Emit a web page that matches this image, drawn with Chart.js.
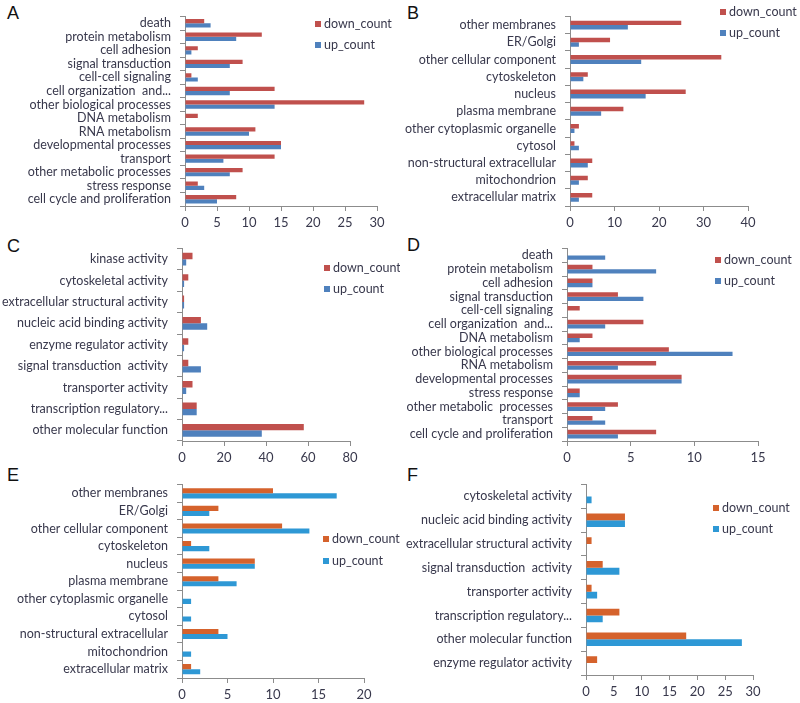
<!DOCTYPE html>
<html>
<head>
<meta charset="utf-8">
<script src="https://cdn.jsdelivr.net/npm/chart.js@4.4.1/dist/chart.umd.min.js"></script>
<style>
  body { margin: 0; background: #fff; width: 800px; height: 703px; position: relative; overflow: hidden; }
  canvas { position: absolute; }
  .tag { position: absolute; font: 18px "Liberation Sans", Arial, sans-serif; color: #111; }
</style>
</head>
<body>
<div class="tag" style="left:7px;top:3px">A</div>
<div class="tag" style="left:407px;top:3px">B</div>
<div class="tag" style="left:7px;top:236px">C</div>
<div class="tag" style="left:407px;top:235px">D</div>
<div class="tag" style="left:7px;top:465px">E</div>
<div class="tag" style="left:407px;top:465px">F</div>

<canvas id="chartA" width="400" height="232" style="left:0;top:0"></canvas>
<canvas id="chartB" width="400" height="232" style="left:400px;top:0"></canvas>
<canvas id="chartC" width="400" height="240" style="left:0;top:232px"></canvas>
<canvas id="chartD" width="400" height="240" style="left:400px;top:232px"></canvas>
<canvas id="chartE" width="400" height="235" style="left:0;top:468px"></canvas>
<canvas id="chartF" width="400" height="235" style="left:400px;top:468px"></canvas>

<script>
// ---- data (categories listed top to bottom) ----
var processLabelsA = ['death', 'protein metabolism', 'cell adhesion', 'signal transduction',
    'cell-cell signaling', 'cell organization  and...', 'other biological processes', 'DNA metabolism',
    'RNA metabolism', 'developmental processes', 'transport', 'other metabolic processes',
    'stress response', 'cell cycle and proliferation'];
var downA = [3, 12, 2, 9, 1, 14, 28, 2, 11, 15, 14, 9, 2, 8];
var upA   = [4, 8, 1, 7, 2, 7, 14, 0, 10, 15, 6, 7, 3, 5];

var componentLabelsB = ['other membranes', 'ER/Golgi', 'other cellular component', 'cytoskeleton',
    'nucleus', 'plasma membrane', 'other cytoplasmic organelle', 'cytosol',
    'non-structural extracellular', 'mitochondrion', 'extracellular matrix'];
var downB = [25, 9, 34, 4, 26, 12, 2, 1, 5, 4, 5];
var upB   = [13, 2, 16, 3, 17, 7, 1, 2, 4, 2, 2];

var functionLabelsC = ['kinase activity', 'cytoskeletal activity', 'extracellular structural activity',
    'nucleic acid binding activity', 'enzyme regulator activity', 'signal transduction  activity',
    'transporter activity', 'transcription regulatory...', 'other molecular function'];
var downC = [5, 3, 1, 9, 3, 3, 5, 7, 58];
var upC   = [2, 1, 1, 12, 1, 9, 2, 7, 38];

var processLabelsD = ['death', 'protein metabolism', 'cell adhesion', 'signal transduction',
    'cell-cell signaling', 'cell organization  and...', 'DNA metabolism', 'other biological processes',
    'RNA metabolism', 'developmental processes', 'stress response', 'other metabolic  processes',
    'transport', 'cell cycle and proliferation'];
var downD = [0, 2, 2, 4, 1, 6, 2, 8, 7, 9, 1, 4, 2, 7];
var upD   = [3, 7, 2, 6, 0, 3, 1, 13, 4, 9, 1, 3, 3, 4];

var componentLabelsE = componentLabelsB;
var downE = [10, 4, 11, 1, 8, 4, 0, 0, 4, 0, 1];
var upE   = [17, 3, 14, 3, 8, 6, 1, 1, 5, 1, 2];

var functionLabelsF = ['cytoskeletal activity', 'nucleic acid binding activity',
    'extracellular structural activity', 'signal transduction  activity', 'transporter activity',
    'transcription regulatory...', 'other molecular function', 'enzyme regulator activity'];
var downF = [0, 7, 1, 3, 1, 6, 18, 2];
var upF   = [1, 7, 0, 6, 2, 3, 28, 0];

var xMaxA = 30, xMaxB = 40, xMaxC = 80, xMaxD = 15, xMaxE = 20, xMaxF = 30;
var xStepA = 5, xStepB = 10, xStepC = 20, xStepD = 5, xStepE = 5, xStepF = 5;

// ---- styling ----
var FONT = 'Lato, "Open Sans", sans-serif';
var TEXT = '#38384c';
var AXIS = '#8c8c8c';
var oldColors = ['#C0504D', '#4F81BD'];
var newColors = ['#D5622C', '#2E98D5'];

var cornerLegend = {
    id: 'cornerLegend',
    afterDraw: function (chart, args, opts) {
        var ctx = chart.ctx;
        ctx.save();
        ctx.font = '12.5px ' + FONT;
        ctx.textBaseline = 'middle';
        chart.data.datasets.forEach(function (ds, i) {
            var y = opts.y + i * opts.gap;
            ctx.fillStyle = ds.backgroundColor;
            ctx.fillRect(opts.x, y - 3, 6, 6);
            ctx.fillStyle = TEXT;
            ctx.fillText(ds.label, opts.x + 9, y);
        });
        ctx.restore();
    }
};

// box = canvas position on page, area = plot area on page
function drawPanel(id, box, area, labels, down, up, xMax, xStep, colors, catPct, legend) {
    new Chart(document.getElementById(id), {
        type: 'bar',
        data: {
            labels: labels,
            datasets: [
                { label: 'down_count', data: down, backgroundColor: colors[0] },
                { label: 'up_count', data: up, backgroundColor: colors[1] }
            ]
        },
        plugins: [cornerLegend],
        options: {
            indexAxis: 'y',
            responsive: false,
            animation: false,
            datasets: { bar: { categoryPercentage: catPct, barPercentage: 1 } },
            layout: { padding: { top: area.top - box.t, right: box.l + box.w - area.right, left: 0, bottom: 0 } },
            plugins: {
                legend: { display: false },
                tooltip: { enabled: false },
                cornerLegend: { x: legend[0] - box.l, y: legend[1] - box.t, gap: legend[2] }
            },
            scales: {
                x: {
                    min: 0, max: xMax,
                    ticks: { stepSize: xStep, color: TEXT, font: { family: FONT, size: 13 }, padding: 4 },
                    grid: { drawOnChartArea: false, tickLength: 5, color: AXIS },
                    border: { color: AXIS },
                    afterFit: function (s) { s.height = box.t + box.h - area.bottom; }
                },
                y: {
                    ticks: { color: TEXT, font: { family: FONT, size: 12.5 }, padding: 9, autoSkip: false },
                    grid: { drawOnChartArea: false, tickLength: 5, color: AXIS, offset: true },
                    border: { color: AXIS },
                    afterFit: function (s) { s.width = area.left - box.l; }
                }
            }
        }
    });
}

drawPanel('chartA', { l: 0, t: 0, w: 400, h: 232 }, { left: 185, top: 4, right: 377, bottom: 206 },
    processLabelsA, downA, upA, xMaxA, xStepA, oldColors, 0.62, [315, 24, 21]);
drawPanel('chartB', { l: 400, t: 0, w: 400, h: 232 }, { left: 570, top: 3, right: 748, bottom: 206 },
    componentLabelsB, downB, upB, xMaxB, xStepB, oldColors, 0.52, [720, 12, 21]);
drawPanel('chartC', { l: 0, t: 232, w: 400, h: 240 }, { left: 182, top: 240, right: 350, bottom: 441 },
    functionLabelsC, downC, upC, xMaxC, xStepC, oldColors, 0.6, [324, 268, 21]);
drawPanel('chartD', { l: 400, t: 232, w: 400, h: 240 }, { left: 567, top: 237, right: 758, bottom: 441 },
    processLabelsD, downD, upD, xMaxD, xStepD, oldColors, 0.62, [715, 260, 21]);
drawPanel('chartE', { l: 0, t: 468, w: 400, h: 235 }, { left: 182, top: 475, right: 364, bottom: 678 },
    componentLabelsE, downE, upE, xMaxE, xStepE, newColors, 0.58, [323, 539, 22]);
drawPanel('chartF', { l: 400, t: 468, w: 400, h: 235 }, { left: 586, top: 474, right: 753, bottom: 675 },
    functionLabelsF, downF, upF, xMaxF, xStepF, newColors, 0.57, [713, 508, 21]);
</script>
</body>
</html>
